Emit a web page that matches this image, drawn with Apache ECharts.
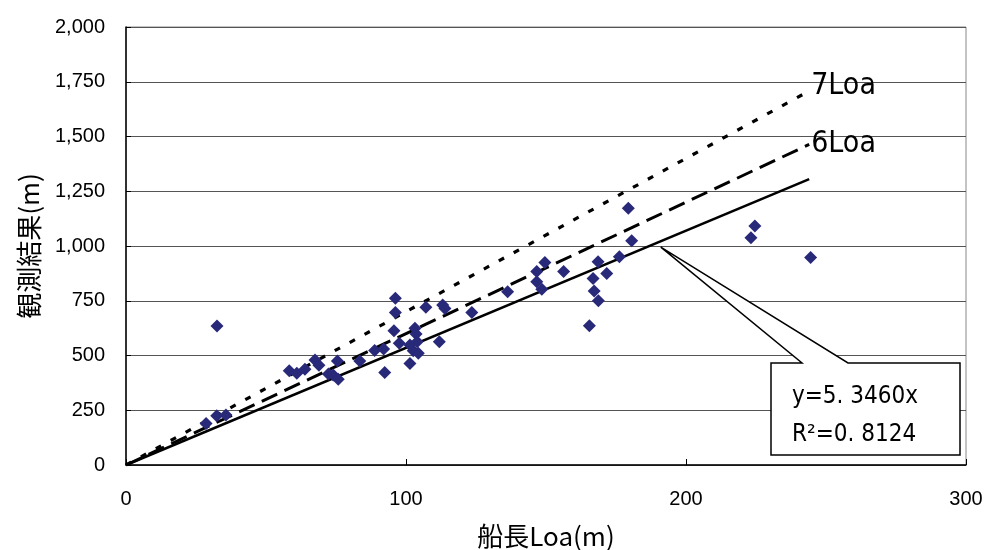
<!DOCTYPE html>
<html>
<head>
<meta charset="utf-8">
<script src="https://cdn.jsdelivr.net/npm/echarts@6/dist/echarts.min.js"></script>
<style>
html,body{margin:0;padding:0;background:#fff;}
#chart{width:985px;height:550px;}
</style>
</head>
<body>
<div id="chart"></div>
<script>
// ---- data ----
const loaX = [28.6, 32.5, 32.4, 35.7, 58.3, 61, 63.9, 67.5, 68.9, 72.3, 74, 75.5, 75.8, 83.5, 88.8, 92, 92.4, 95.7, 96.2, 96.2, 97.6, 101.4, 101.4, 102.6, 103.2, 103.6, 104, 104.4, 107.1, 111.9, 113.1, 113.9, 123.5, 136.3, 146.7, 146.7, 148.5, 149.6, 156.3, 165.5, 166.8, 167.2, 168.6, 168.7, 171.7, 176.2, 179.4, 180.6, 223.2, 224.6, 244.5];
const observed = [190, 635, 225, 228, 430, 419, 437, 479, 456, 415, 411, 475, 391, 475, 523, 530, 422, 613, 696, 761, 556, 464, 548, 522, 624, 598, 563, 510, 720, 563, 731, 715, 696, 791, 883, 837, 802, 925, 883, 636, 852, 794, 928, 750, 875, 951, 1172, 1024, 1038, 1091, 948];
const lineX = [0, 244];
const trendY = [0, 1305];
const loa6Y = [0, 1464];
const loa7Y = [0, 1708];
const yTicks = [0, 250, 500, 750, 1000, 1250, 1500, 1750, 2000];
const xTicks = [0, 100, 200, 300];
const xTitle = '船長Loa(m)';
const yTitle = '観測結果(m)';
const eqText = 'y=5. 3460x';
const r2Text = 'R²=0. 8124';
const calloutAnchor = [191, 995];

const chart = echarts.init(document.getElementById('chart'));
const tickFont = {fontFamily: 'Liberation Sans, Arial, sans-serif', fontSize: 20, color: '#000'};
const condensed = 'DejaVu Sans Condensed, Liberation Sans Narrow, sans-serif';

function pairs(xs, ys) { return xs.map((x, i) => [x, ys[i]]); }

const option = {
  animation: false,
  backgroundColor: '#fff',
  grid: {left: 126, right: 19, top: 27, bottom: 85, show: true, borderColor: '#888', borderWidth: 1, outerBoundsMode: 'none', containLabel: false},
  xAxis: {
    type: 'value', min: xTicks[0], max: xTicks[xTicks.length - 1], interval: 100,
    name: xTitle, nameLocation: 'middle', nameGap: 58,
    nameTextStyle: {fontFamily: 'Noto Sans CJK JP', fontSize: 26, color: '#000'},
    axisLine: {show: true, lineStyle: {color: '#000', width: 1.5}},
    axisTick: {show: true, inside: true, length: 6, lineStyle: {color: '#000'}},
    axisLabel: Object.assign({margin: 24}, tickFont),
    splitLine: {show: false}
  },
  yAxis: {
    type: 'value', min: yTicks[0], max: yTicks[yTicks.length - 1], interval: 250,
    name: yTitle, nameLocation: 'middle', nameGap: 84, nameRotate: 90,
    nameTextStyle: {fontFamily: 'Noto Sans CJK JP', fontSize: 26, color: '#000'},
    axisLine: {show: true, lineStyle: {color: '#000', width: 1.5}},
    axisTick: {show: true, inside: true, length: 5, lineStyle: {color: '#000'}},
    axisLabel: Object.assign({margin: 21, formatter: v => v.toLocaleString('en-US')}, tickFont),
    splitLine: {show: true, lineStyle: {color: '#555', width: 1}}
  },
  series: [
    {
      type: 'line', data: pairs(lineX, loa7Y), symbol: 'none', z: 3,
      lineStyle: {color: '#000', width: 3.2, type: [6, 11]},
      endLabel: {show: true, formatter: '7Loa', fontFamily: condensed, fontSize: 30, color: '#000', distance: 2, offset: [0, -5]}
    },
    {
      type: 'line', data: pairs(lineX, loa6Y), symbol: 'none', z: 3,
      lineStyle: {color: '#000', width: 3, type: [17, 8]},
      endLabel: {show: true, formatter: '6Loa', fontFamily: condensed, fontSize: 30, color: '#000', distance: 2, offset: [0, 0]}
    },
    {
      type: 'line', data: pairs(lineX, trendY), symbol: 'none', z: 3,
      lineStyle: {color: '#000', width: 2.5, type: 'solid'}
    },
    {
      type: 'scatter', data: pairs(loaX, observed), symbol: 'diamond', symbolSize: 13, z: 4,
      itemStyle: {color: '#29297a', opacity: 1}
    }
  ]
};
chart.setOption(option);

// callout box with leader
const a = chart.convertToPixel({gridIndex: 0}, calloutAnchor);
const bx1 = 771, bx2 = 960, by1 = 363, by2 = 455, n1 = 802, n2 = 848;
chart.setOption({
  graphic: [
    {
      type: 'polygon', z: 100,
      shape: {points: [[bx1, by1], [n1, by1], a, [n2, by1], [bx2, by1], [bx2, by2], [bx1, by2]]},
      style: {fill: '#fff', stroke: '#000', lineWidth: 1.5}
    },
    {
      type: 'text', z: 101, x: bx1 + 21, y: by1 + 34,
      style: {text: eqText, font: '24px ' + condensed, fill: '#000', verticalAlign: 'middle', align: 'left'}
    },
    {
      type: 'text', z: 101, x: bx1 + 21, y: by1 + 72,
      style: {text: r2Text, font: '24px ' + condensed, fill: '#000', verticalAlign: 'middle', align: 'left'}
    }
  ]
});
</script>
</body>
</html>
